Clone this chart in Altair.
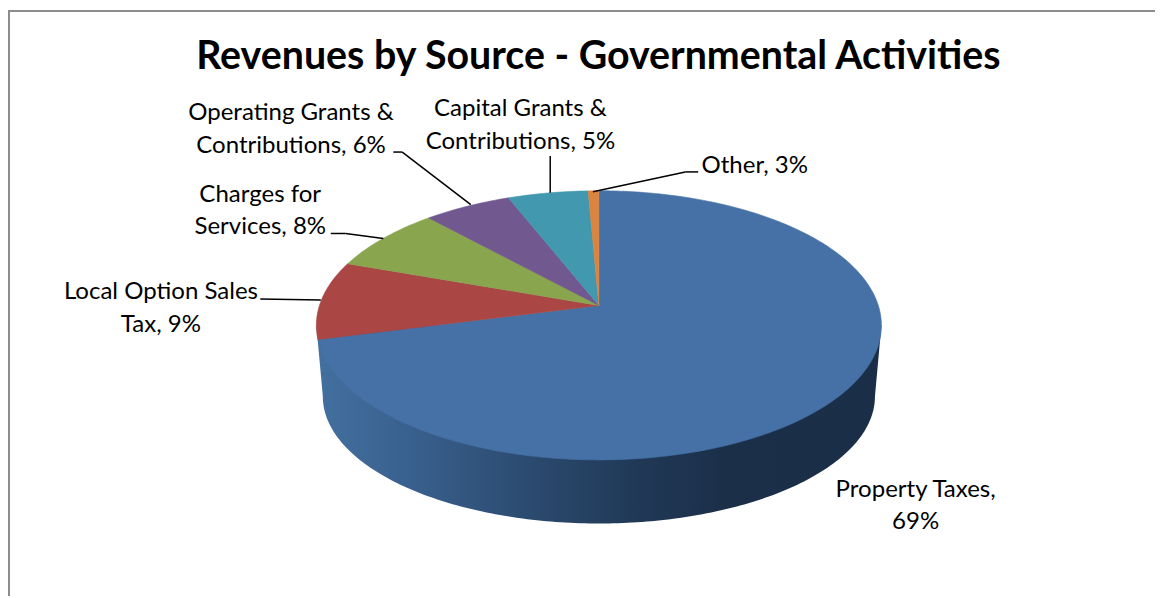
import numpy as np
import altair as alt

TITLE = "Revenues by Source - Governmental Activities"
CATEGORIES = ["Property Taxes", "Local Option Sales Tax", "Charges for Services",
              "Operating Grants & Contributions", "Capital Grants & Contributions", "Other"]
LABEL_PCT = [69, 9, 8, 6, 5, 3]
DRAWN_SHARE = [71.0, 9.4, 7.8, 5.8, 5.3, 0.7]
COLORS = ["#4571a7", "#aa4643", "#89a54e", "#71588f", "#4198af", "#db843d"]

# --- pie geometry (page pixels of the reference)
CX, CY, RX, RY = 603.0, 325.5, 284.5, 135.5
APEX_Y = 305.5
BX, BY, BRX, BRY = 603.0, 397.0, 278.0, 128.0
A = (CY - APEX_Y) / RY


def rim(f):
    th = 2 * np.pi * f
    u, v = np.sin(th), np.cos(th)
    d = 1 + A * v
    return [float(CX + RX * np.sqrt(1 - A * A) * u / d), float(CY - RY * (v + A) / d)]


def feature(ring, color):
    return {"type": "Feature", "properties": {"color": color},
            "geometry": {"type": "Polygon", "coordinates": [ring + [ring[0]]]}}


def fc(features):
    return alt.InlineData(values={"type": "FeatureCollection", "features": features},
                          format=alt.DataFormat(property="features", type="json"))


PROJ = dict(type="identity", scale=1, translate=[-8, -8])

# side wall
wall = [[CX + RX, CY]]
wall += [[float(BX + BRX * np.sin(t)), float(BY - BRY * np.cos(t))] for t in np.radians(np.arange(90, 271, 1))]
wall += [[CX - RX, CY]]
gradient = alt.Gradient(gradient="linear", x1=0, x2=1, y1=0, y2=0, stops=[
    alt.GradientStop(offset=0.0, color="#43709f"),
    alt.GradientStop(offset=0.15, color="#3a6290"),
    alt.GradientStop(offset=0.35, color="#2d4d73"),
    alt.GradientStop(offset=0.55, color="#213a58"),
    alt.GradientStop(offset=0.72, color="#1b2f49"),
    alt.GradientStop(offset=1.0, color="#1b2e47"),
])
wall_layer = alt.Chart(fc([feature(wall, "#1b2e47")])).mark_geoshape(
    fill=gradient, stroke="transparent", filled=True).project(**PROJ)

# top surface
edges = np.concatenate([[0], np.cumsum(DRAWN_SHARE)]) / sum(DRAWN_SHARE)
slices = []
for i, color in enumerate(COLORS):
    n = max(3, int((edges[i + 1] - edges[i]) * 360))
    ring = [[CX, APEX_Y]] + [rim(f) for f in np.linspace(edges[i], edges[i + 1], n)]
    slices.append(feature(ring, color))
top_layer = alt.Chart(fc(slices)).mark_geoshape(filled=True, strokeWidth=0.6).encode(
    fill=alt.Fill("properties.color:N", scale=None),
    stroke=alt.Stroke("properties.color:N", scale=None),
).project(**PROJ)


def rule(x1, y1, x2, y2, color="#000000", w=1.5):
    return alt.Chart(alt.Data(values=[{"a": 1}])).mark_rule(color=color, strokeWidth=w).encode(
        x=alt.value(x1 - 8), x2=alt.value(x2 - 8), y=alt.value(y1 - 8), y2=alt.value(y2 - 8))


leaders = [
    rule(262, 299, 323, 300),
    rule(333, 233, 348, 233), rule(348, 233, 386, 238),
    rule(396, 151, 405, 151), rule(405, 151, 474, 204),
    rule(554, 155, 554, 192),
    rule(703, 171, 690, 171), rule(690, 171, 597, 191),
]
frame = [rule(9, 9, 1163, 9, "#8c8c8c", 2), rule(9, 8, 9, 598, "#8c8c8c", 2)]


def text(lines, x, y, size=24.2, bold=False, line_height=33):
    return alt.Chart(alt.Data(values=[{"t": "\n".join(lines)}])).mark_text(
        font="Lato", fontSize=size, fontWeight="bold" if bold else "normal", color="#000000",
        align="center", baseline="alphabetic", lineBreak="\n", lineHeight=line_height,
    ).encode(text="t:N", x=alt.value(x - 8), y=alt.value(y - 8))


labels = [
    text(["Property Taxes,", f"{LABEL_PCT[0]}%"], 922, 498),
    text(["Local Option Sales", f"Tax, {LABEL_PCT[1]}%"], 162, 299),
    text(["Charges for", f"Services, {LABEL_PCT[2]}%"], 262, 201),
    text(["Operating Grants &", f"Contributions, {LABEL_PCT[3]}%"], 293, 119),
    text(["Capital Grants &", f"Contributions, {LABEL_PCT[4]}%"], 524, 115),
    text([f"Other, {LABEL_PCT[5]}%"], 760, 172),
]
title = text([TITLE], 602.5, 67, size=39.6, bold=True)

chart = alt.layer(*frame, wall_layer, top_layer, *leaders, *labels, title).properties(
    width=1155, height=590, padding=0, autosize=alt.AutoSizeParams(type="none"),
    background="#ffffff",
).configure_view(stroke=None)

chart.save("out.html", embed_options={"renderer": "svg", "actions": False})
